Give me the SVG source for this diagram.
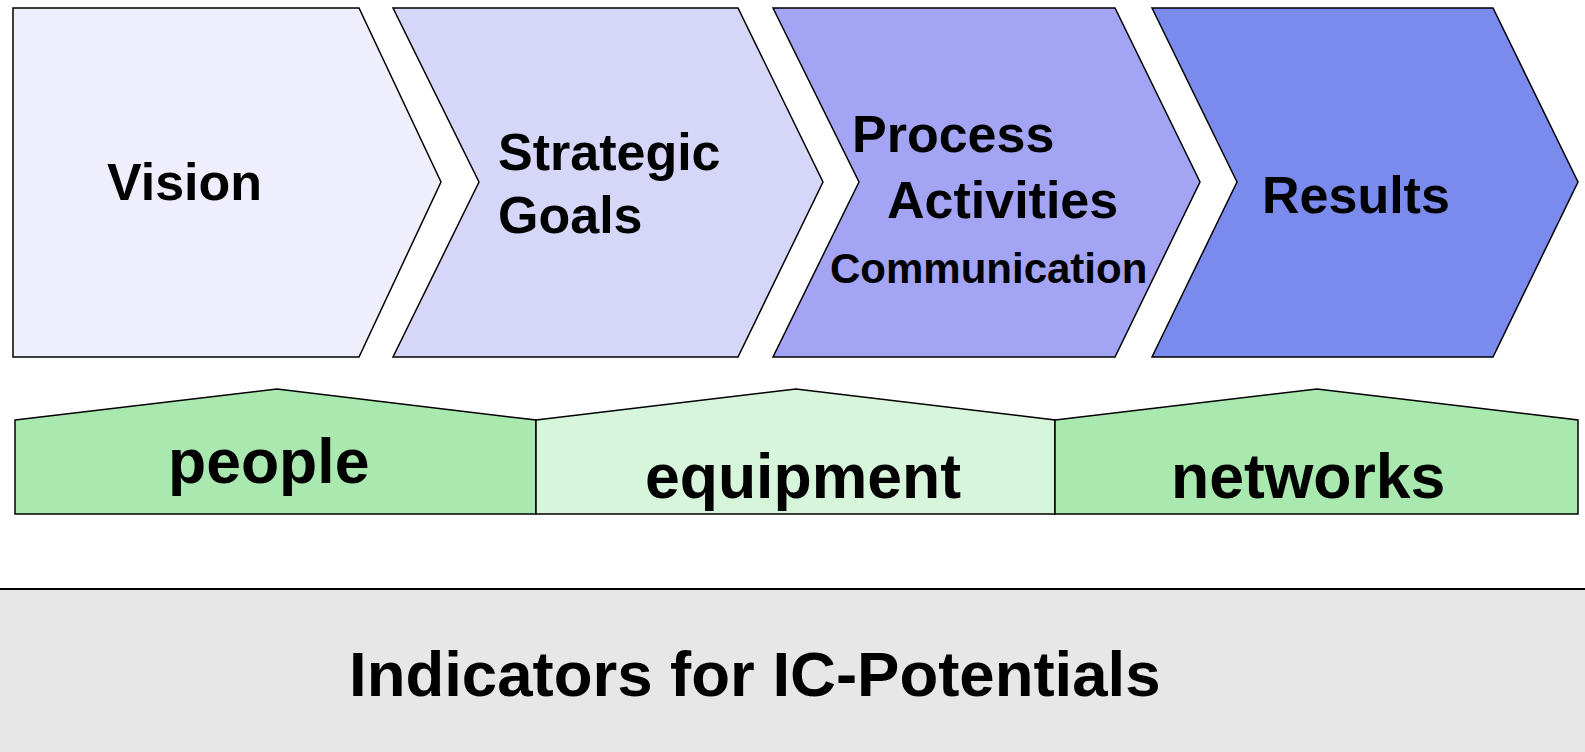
<svg xmlns="http://www.w3.org/2000/svg" width="1585" height="752" viewBox="0 0 1585 752">
<style>
.shape{stroke:#000;stroke-width:1.5;stroke-linejoin:miter}
.t{font-family:"Liberation Sans",Arial,sans-serif;font-weight:bold;fill:#000}
.big{font-size:52px}
.small{font-size:42px}
.res{font-size:62.5px}
.band{font-size:63.5px}
</style>
<rect x="0" y="0" width="1585" height="752" fill="#ffffff"/>
<g id="vision">
<polygon class="shape" fill="#eeeefc" points="13,8 359,8 441,182 359,357 13,357"/>
<text class="t big" x="107" y="200">Vision</text>
</g>
<g id="strategic-goals">
<polygon class="shape" fill="#d6d6f8" points="393,8 738,8 823,182 738,357 393,357 479,182"/>
<text class="t big" x="498" y="170">Strategic</text>
<text class="t big" x="498" y="233">Goals</text>
</g>
<g id="process-activities">
<polygon class="shape" fill="#a3a5f4" points="773,8 1115,8 1200,182 1115,357 773,357 859,182"/>
<text class="t big" x="852" y="152">Process</text>
<text class="t big" x="887" y="218">Activities</text>
<text class="t small" x="830" y="283">Communication</text>
</g>
<g id="results">
<polygon class="shape" fill="#7a8bed" points="1152,8 1493,8 1578,182 1493,357 1152,357 1237,182"/>
<text class="t big" x="1262" y="213">Results</text>
</g>
<g id="people">
<polygon class="shape" fill="#a9e9b0" points="15,420 277,389 536,420 536,514 15,514"/>
<text class="t res" x="168" y="483">people</text>
</g>
<g id="equipment">
<polygon class="shape" fill="#d6f5db" points="536,420 796,389 1055,420 1055,514 536,514"/>
<text class="t res" x="645" y="498">equipment</text>
</g>
<g id="networks">
<polygon class="shape" fill="#a9e9b0" points="1055,420 1317,389 1578,420 1578,514 1055,514"/>
<text class="t res" x="1171" y="498">networks</text>
</g>
<g id="indicators">
<rect x="0" y="589" width="1585" height="163" fill="#e7e7e7"/>
<line x1="0" y1="589" x2="1585" y2="589" stroke="#000" stroke-width="2"/>
<text class="t band" x="349" y="696">Indicators for IC-Potentials</text>
</g>
</svg>
